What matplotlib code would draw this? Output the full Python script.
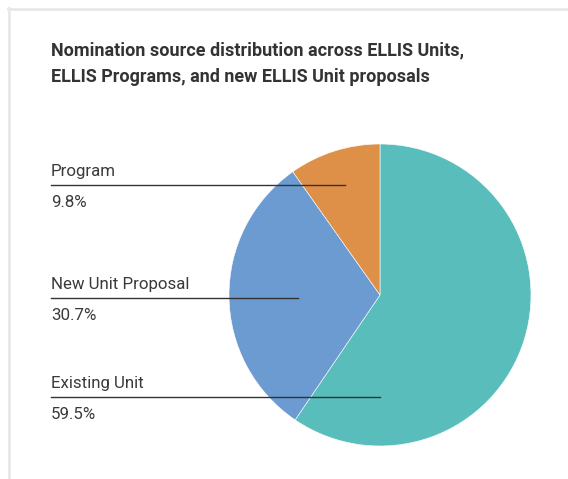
import matplotlib
matplotlib.use("Agg")
import matplotlib.pyplot as plt
from matplotlib.lines import Line2D

categories = ["Existing Unit", "New Unit Proposal", "Program"]
values = [59.5, 30.7, 9.8]
colors = ["#59bebb", "#6c9bd2", "#de8f48"]
pct_labels = ["59.5%", "30.7%", "9.8%"]
title_lines = ["Nomination source distribution across ELLIS Units,",
               "ELLIS Programs, and new ELLIS Unit proposals"]

W, H = 568, 479
fig = plt.figure(figsize=(W / 100, H / 100), dpi=100)
fig.patch.set_facecolor("white")

def fx(px):
    return px / W

def fy(py):
    return 1 - py / H

# card border (top and left)
fig.add_artist(Line2D([fx(8), fx(568)], [fy(9), fy(9)], color="#e8e8e8", lw=2))
fig.add_artist(Line2D([fx(9), fx(9)], [fy(8), fy(479)], color="#e8e8e8", lw=2))

# title
for i, line in enumerate(title_lines):
    fig.text(fx(51), fy(55 + 27 * i), line, family="Roboto", weight="bold", fontsize=13,
             color="#333333", va="baseline", ha="left")

# pie
cx, cy, r = 380, 295, 151
ax = fig.add_axes([fx(cx - r), fy(cy + r), 2 * r / W, 2 * r / H])
ax.pie(values, colors=colors, startangle=90, counterclock=False, radius=1,
       wedgeprops=dict(linewidth=0.4, edgecolor="white"))
ax.set_xlim(-1, 1)
ax.set_ylim(-1, 1)
ax.set_aspect("auto")
ax.axis("off")

# labels with leader lines (layout in pixels)
label_layout = {
    "Program": (185, 345),
    "New Unit Proposal": (298, 298),
    "Existing Unit": (397, 380),
}
for cat, pct in zip(categories, pct_labels):
    ly, lx_end = label_layout[cat]
    fig.add_artist(Line2D([fx(51), fx(lx_end)], [fy(ly), fy(ly)], color="#333333", lw=1.0, zorder=5))
    fig.text(fx(51), fy(ly - 9), cat, family="Roboto", fontsize=12.2, color="#3a3a3a",
             ha="left", va="baseline")
    fig.text(fx(51), fy(ly + 22), pct, family="Roboto", fontsize=12.2, color="#3a3a3a",
             ha="left", va="baseline")

fig.savefig("out.png", dpi=100, facecolor="white")
